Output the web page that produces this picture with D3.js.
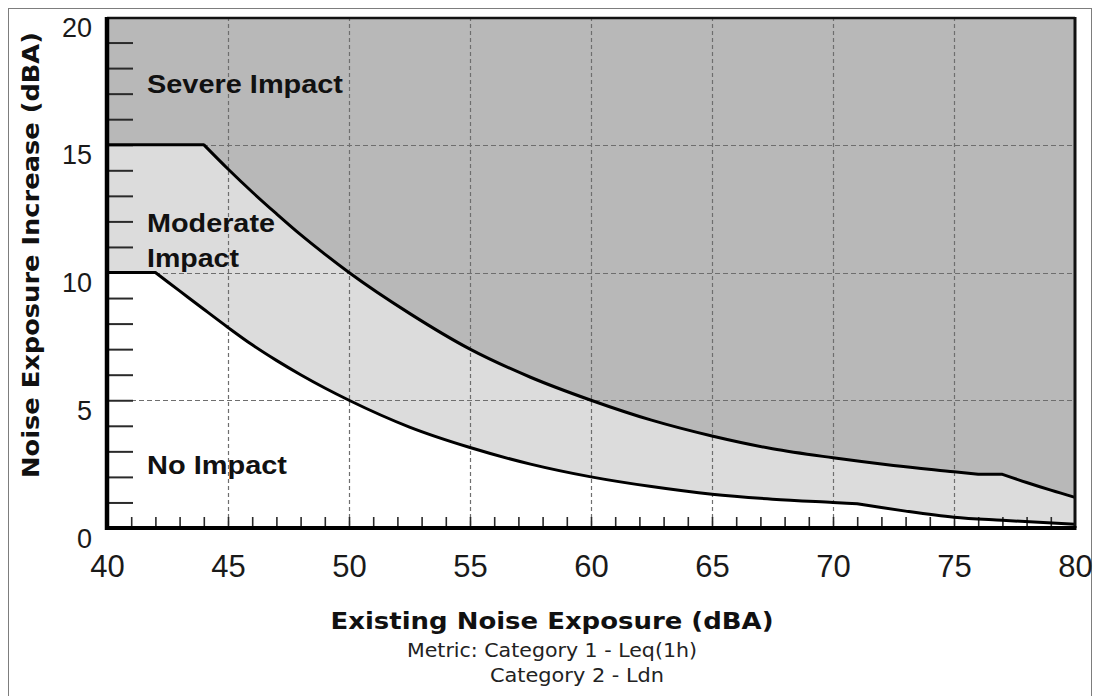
<!DOCTYPE html>
<html>
<head>
<meta charset="utf-8">
<script src="https://cdn.jsdelivr.net/npm/d3@7"></script>
<style>
  body { margin: 0; background: #fff; }
  svg { display: block; }
</style>
</head>
<body>
<div id="chart"></div>
<script>
// chart data
var xTickValues = [40, 45, 50, 55, 60, 65, 70, 75, 80];
var yTickValues = [0, 5, 10, 15, 20];

// lower curve: start of moderate impact
var moderateX = [40, 42, 43, 44, 45, 46, 47, 48, 49, 50, 52.5, 55, 57.5, 60, 62.5, 65, 67.5, 70, 71, 72, 73, 75, 77, 80];
var moderateY = [10, 10, 9.28, 8.56, 7.85, 7.17, 6.56, 6.0, 5.48, 5.0, 3.95, 3.15, 2.5, 2.0, 1.62, 1.32, 1.13, 1.0, 0.95, 0.8, 0.66, 0.42, 0.3, 0.15];
var moderateCorners = [42, 71];

// upper curve: start of severe impact
var severeX = [40, 44, 45, 46, 47, 48, 49, 50, 52.5, 55, 57.5, 60, 62.5, 65, 67.5, 70, 72.5, 75, 76, 77, 78, 79, 80];
var severeY = [15, 15, 14.05, 13.15, 12.3, 11.48, 10.72, 10, 8.4, 7.0, 5.9, 5, 4.22, 3.6, 3.1, 2.75, 2.45, 2.2, 2.1, 2.1, 1.78, 1.48, 1.2];
var severeCorners = [44, 76, 77];

var regionLabels = ["Severe Impact", "Moderate", "Impact", "No Impact"];

// layout
var width = 1094, height = 696;
var plot = { left: 107, right: 1075, top: 17, bottom: 528 };

var svg = d3.select("#chart").append("svg")
    .attr("width", width)
    .attr("height", height);

// outer frame of the figure
svg.append("rect")
    .attr("x", 8.5).attr("y", 8.5)
    .attr("width", 1083).attr("height", 700)
    .attr("fill", "none")
    .attr("stroke", "#7d7d7d")
    .attr("stroke-width", 1);

var x = d3.scaleLinear().domain([40, 80]).range([plot.left, plot.right]);
var y = d3.scaleLinear().domain([0, 20]).range([plot.bottom, plot.top]);

function zip(xs, ys) {
    return xs.map(function(d, i) { return [d, ys[i]]; });
}
var moderateData = zip(moderateX, moderateY);
var severeData = zip(severeX, severeY);

// smooth between the corners, sharp at the corners
var segLine = d3.line()
    .x(function(d) { return x(d[0]); })
    .y(function(d) { return y(d[1]); })
    .curve(d3.curveMonotoneX);

function curvePath(data, corners) {
    var pieces = [], cur = [];
    data.forEach(function(p) {
        cur.push(p);
        if (corners.indexOf(p[0]) >= 0) {
            pieces.push(cur);
            cur = [p];
        }
    });
    if (cur.length > 1) pieces.push(cur);
    return pieces.map(function(seg, i) {
        var s = segLine(seg);
        return i === 0 ? s : "L" + s.slice(1);
    }).join("");
}

// background = severe zone
svg.append("rect")
    .attr("x", x(40)).attr("y", y(20))
    .attr("width", x(80) - x(40))
    .attr("height", y(0) - y(20))
    .attr("fill", "#b8b8b8");

function areaPath(data, corners) {
    return curvePath(data, corners) +
        "L" + x(80) + "," + y(0) + "L" + x(40) + "," + y(0) + "Z";
}

svg.append("path")
    .attr("d", areaPath(severeData, severeCorners))
    .attr("fill", "#dcdcdc");
svg.append("path")
    .attr("d", areaPath(moderateData, moderateCorners))
    .attr("fill", "#ffffff");

// dashed grid
var grid = svg.append("g").attr("class", "grid");
grid.selectAll("line.vx")
    .data(xTickValues.slice(1, -1))
    .enter().append("line")
    .attr("x1", function(d) { return Math.round(x(d)) + 0.5; })
    .attr("x2", function(d) { return Math.round(x(d)) + 0.5; })
    .attr("y1", y(20)).attr("y2", y(0))
    .attr("stroke", "#6e6e6e")
    .attr("stroke-width", 1.2)
    .attr("stroke-dasharray", "4,3");
grid.selectAll("line.hy")
    .data(yTickValues.slice(1, -1))
    .enter().append("line")
    .attr("y1", function(d) { return Math.round(y(d)) + 0.5; })
    .attr("y2", function(d) { return Math.round(y(d)) + 0.5; })
    .attr("x1", x(40)).attr("x2", x(80))
    .attr("stroke", "#6e6e6e")
    .attr("stroke-width", 1.2)
    .attr("stroke-dasharray", "5,3");

// minor ticks pointing inwards
var yMinor = svg.append("g")
    .attr("transform", "translate(" + plot.left + ",0)")
    .call(d3.axisLeft(y).tickValues(d3.range(1, 20)).tickSize(-26).tickFormat(""));
yMinor.select(".domain").remove();
yMinor.selectAll("line").attr("stroke", "#2a2a2a").attr("stroke-width", 2);

var xMinor = svg.append("g")
    .attr("transform", "translate(0," + plot.bottom + ")")
    .call(d3.axisBottom(x).tickValues(d3.range(41, 80)).tickSize(-11).tickFormat(""));
xMinor.select(".domain").remove();
xMinor.selectAll("line").attr("stroke", "#2a2a2a").attr("stroke-width", 1.6);

// the two threshold curves
[[severeData, severeCorners], [moderateData, moderateCorners]].forEach(function(c) {
    svg.append("path")
        .attr("d", curvePath(c[0], c[1]))
        .attr("fill", "none")
        .attr("stroke", "#000")
        .attr("stroke-width", 3)
        .attr("stroke-linejoin", "round");
});

// frame: thin top/right, heavy left/bottom
svg.append("line").attr("x1", plot.left).attr("x2", plot.right).attr("y1", plot.top + 1).attr("y2", plot.top + 1)
    .attr("stroke", "#111").attr("stroke-width", 2.5);
svg.append("line").attr("x1", plot.right).attr("x2", plot.right).attr("y1", plot.top).attr("y2", plot.bottom)
    .attr("stroke", "#111").attr("stroke-width", 3);
svg.append("line").attr("x1", plot.left).attr("x2", plot.left).attr("y1", plot.top).attr("y2", plot.bottom + 2)
    .attr("stroke", "#000").attr("stroke-width", 4.5);
svg.append("line").attr("x1", plot.left - 2).attr("x2", plot.right + 1.5).attr("y1", plot.bottom).attr("y2", plot.bottom)
    .attr("stroke", "#000").attr("stroke-width", 4);

// tick labels
var yAxis = svg.append("g")
    .attr("transform", "translate(" + plot.left + ",0)")
    .call(d3.axisLeft(y).tickValues(yTickValues).tickSize(0).tickPadding(15));
yAxis.select(".domain").remove();
yAxis.selectAll("text")
    .attr("dy", null)
    .attr("y", 19)
    .attr("fill", "#1a1a1a")
    .style("font-family", "'Liberation Sans', Arial, sans-serif")
    .style("font-size", "27px");

var xAxis = svg.append("g")
    .attr("transform", "translate(0," + plot.bottom + ")")
    .call(d3.axisBottom(x).tickValues(xTickValues).tickSize(0));
xAxis.select(".domain").remove();
xAxis.selectAll("text")
    .attr("dy", null)
    .attr("y", 49)
    .attr("fill", "#1a1a1a")
    .style("font-family", "'Liberation Sans', Arial, sans-serif")
    .style("font-size", "31px");

// zone labels (the original is slightly stretched sideways)
var zoneFont = "'Liberation Sans', Arial, sans-serif";
var zonePos = [[147, 93, 196], [147, 232, 128], [147, 267, 92], [147, 474, 140]];
svg.selectAll("text.zone")
    .data(regionLabels)
    .enter().append("text")
    .attr("class", "zone")
    .attr("x", function(d, i) { return zonePos[i][0]; })
    .attr("y", function(d, i) { return zonePos[i][1]; })
    .attr("textLength", function(d, i) { return zonePos[i][2]; })
    .attr("lengthAdjust", "spacingAndGlyphs")
    .style("font-family", zoneFont)
    .style("font-weight", "bold")
    .style("font-size", "26.5px")
    .attr("fill", "#111")
    .text(function(d) { return d; });

// axis titles
var titleFont = "'DejaVu Sans', Verdana, sans-serif";
svg.append("text")
    .attr("x", 552).attr("y", 629)
    .attr("text-anchor", "middle")
    .attr("textLength", 443)
    .attr("lengthAdjust", "spacingAndGlyphs")
    .style("font-family", titleFont)
    .style("font-weight", "bold")
    .style("font-size", "23px")
    .attr("fill", "#111")
    .text("Existing Noise Exposure (dBA)");

svg.append("text")
    .attr("transform", "translate(39,255) rotate(-90)")
    .attr("text-anchor", "middle")
    .attr("textLength", 446)
    .attr("lengthAdjust", "spacingAndGlyphs")
    .style("font-family", titleFont)
    .style("font-weight", "bold")
    .style("font-size", "23px")
    .attr("fill", "#111")
    .text("Noise Exposure Increase (dBA)");

svg.append("text")
    .attr("x", 552).attr("y", 657)
    .attr("text-anchor", "middle")
    .attr("textLength", 290)
    .attr("lengthAdjust", "spacingAndGlyphs")
    .style("font-family", titleFont)
    .style("font-size", "19px")
    .attr("fill", "#222")
    .text("Metric: Category 1 - Leq(1h)");

svg.append("text")
    .attr("x", 490).attr("y", 682)
    .attr("textLength", 174)
    .attr("lengthAdjust", "spacingAndGlyphs")
    .style("font-family", titleFont)
    .style("font-size", "19px")
    .attr("fill", "#222")
    .text("Category 2 - Ldn");
</script>
</body>
</html>
